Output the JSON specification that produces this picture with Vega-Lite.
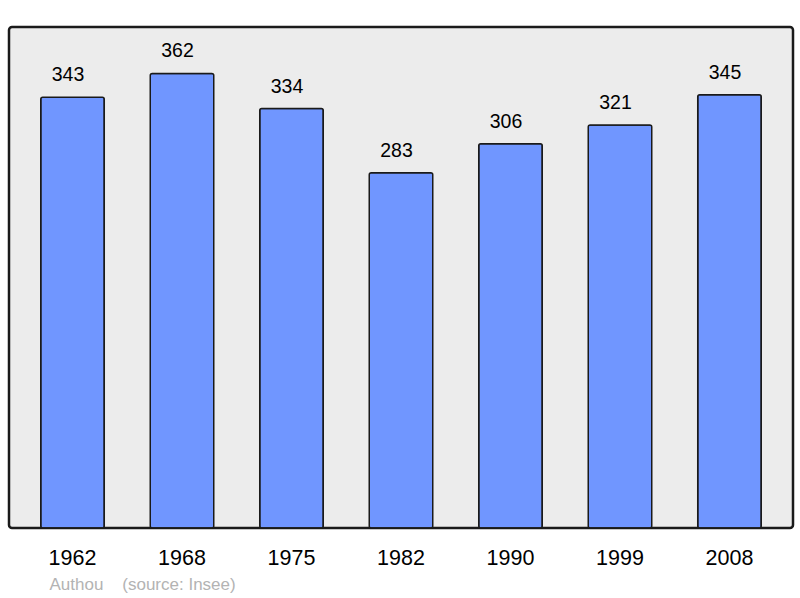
{
  "$schema": "https://vega.github.io/schema/vega-lite/v6.json",
  "autosize": "none",
  "width": 784,
  "height": 501,
  "padding": {"left": 9, "top": 27, "right": 7, "bottom": 70},
  "background": "white",
  "config": {
    "font": "Liberation Sans",
    "view": {"fill": "#ececec", "stroke": "#1a1a1a", "strokeWidth": 2.5, "cornerRadius": 3}
  },
  "data": {
    "values": [
      {"year": "1962", "pop": 343},
      {"year": "1968", "pop": 362},
      {"year": "1975", "pop": 334},
      {"year": "1982", "pop": 283},
      {"year": "1990", "pop": 306},
      {"year": "1999", "pop": 321},
      {"year": "2008", "pop": 345}
    ]
  },
  "encoding": {
    "x": {
      "field": "year", "type": "ordinal", "sort": null,
      "scale": {"paddingInner": 0.42, "paddingOuter": 0.29},
      "axis": {
        "domain": false, "ticks": false, "labelAngle": 0,
        "labelFontSize": 21.5, "labelColor": "black", "labelPadding": 36,
        "labelBaseline": "alphabetic",
        "title": "Authou\u00a0\u00a0\u00a0\u00a0(source: Insee)",
        "titleFontSize": 17, "titleFontWeight": "normal", "titleColor": "#b3b3b3",
        "titleAnchor": "start", "titleAlign": "left", "titleBaseline": "alphabetic",
        "titleX": 40, "titleY": 61
      }
    },
    "y": {
      "field": "pop", "type": "quantitative",
      "scale": {"domain": [0, 399], "nice": false},
      "axis": null
    }
  },
  "layer": [
    {
      "mark": {"type": "bar", "fill": "#7096ff", "stroke": "#1a1a1a", "strokeWidth": 1.5, "cornerRadius": 2}
    },
    {
      "mark": {"type": "text", "baseline": "alphabetic", "dy": -16, "dx": -4.5, "fontSize": 19.5, "color": "black"},
      "encoding": {"text": {"field": "pop", "type": "quantitative"}}
    }
  ]
}
